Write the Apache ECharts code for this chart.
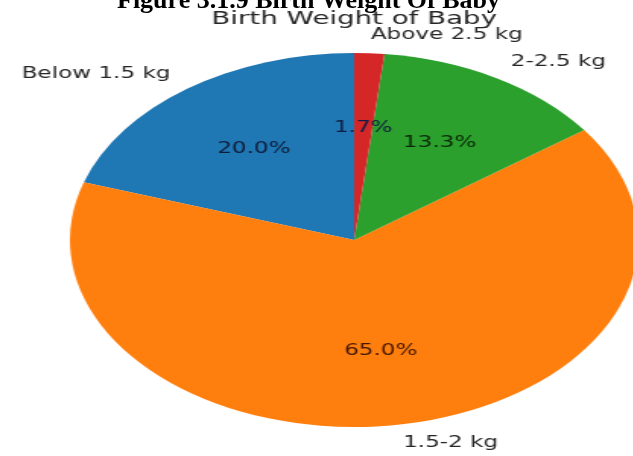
<!DOCTYPE html>
<html>
<head>
<meta charset="utf-8">
<script src="https://cdn.jsdelivr.net/npm/echarts@6/dist/echarts.min.js"></script>
<style>
  html, body { margin: 0; padding: 0; background: #fff; overflow: hidden; }
  #wrap { position: relative; width: 633px; height: 456px; overflow: hidden; background: #fff; }
  #main { position: absolute; left: 0; top: 0; width: 417px; height: 456px; transform: scaleX(1.52); transform-origin: 0 0; }
  #head { position: absolute; left: 0; top: 0; width: 633px; height: 456px; pointer-events: none; }
</style>
</head>
<body>
<div id="wrap"><div id="main"></div><div id="head"></div></div>
<script>
// ---- data ----
const categories = ['Below 1.5 kg', '1.5-2 kg', '2-2.5 kg', 'Above 2.5 kg'];
const percentValues = [20.0, 65.0, 13.3, 1.7];
const chartTitle = 'Birth Weight of Baby';
const figureCaption = 'Figure 3.1.9 Birth Weight Of Baby';

// ---- styles ----
const sliceColors = ['#1f77b4', '#ff7f0e', '#2ca02c', '#d62728'];
const pctTextColors = ['#101c38', '#441800', '#0a280a', '#121c44'];
const CX = 233, CY = 240, R = 187;
const FONT = 'DejaVu Sans';

const main = echarts.init(document.getElementById('main'), null, { renderer: 'canvas' });
main.setOption({
  backgroundColor: '#ffffff',
  animation: false,
  graphic: [{
    type: 'text', x: CX, y: 19.5, silent: true,
    style: { text: chartTitle, align: 'center', verticalAlign: 'middle',
             font: '18.2px "DejaVu Sans"', fill: '#262626' }
  }],
  series: [
    {
      type: 'pie', name: 'Birth Weight', center: [CX, CY], radius: R,
      startAngle: 90, clockwise: false, avoidLabelOverlap: false, silent: true,
      percentPrecision: 1,
      emphasis: { disabled: true },
      data: categories.map((c, i) => ({ name: c, value: percentValues[i], itemStyle: { color: sliceColors[i] } })),
      itemStyle: { borderWidth: 0 },
      label: { show: true, position: 'outside', formatter: '{b}', fontFamily: FONT, fontSize: 15.2,
               color: '#262626', distanceToLabelLine: 0 },
      labelLine: { show: false, length: 0.1 * R, length2: 0 }
    },
    {
      type: 'pie', name: 'Percent', center: [CX, CY], radius: 1.2 * R - 6,
      startAngle: 90, clockwise: false, avoidLabelOverlap: false, silent: true,
      percentPrecision: 1,
      emphasis: { disabled: true },
      data: categories.map((c, i) => ({ name: c, value: percentValues[i],
        itemStyle: { color: 'rgba(0,0,0,0)' }, label: { color: pctTextColors[i] } })),
      label: { show: true, position: 'inside', fontFamily: FONT, fontSize: 15.2,
               formatter: p => p.percent.toFixed(1) + '%' },
      labelLine: { show: false }
    }
  ]
});

const head = echarts.init(document.getElementById('head'), null, { renderer: 'canvas' });
head.setOption({
  backgroundColor: 'transparent',
  animation: false,
  graphic: [{
    type: 'text', x: 117, y: 1, silent: true,
    style: { text: figureCaption, align: 'left', verticalAlign: 'middle',
             font: 'bold 26px "Liberation Serif"', fill: '#000000' }
  }]
});
</script>
</body>
</html>
